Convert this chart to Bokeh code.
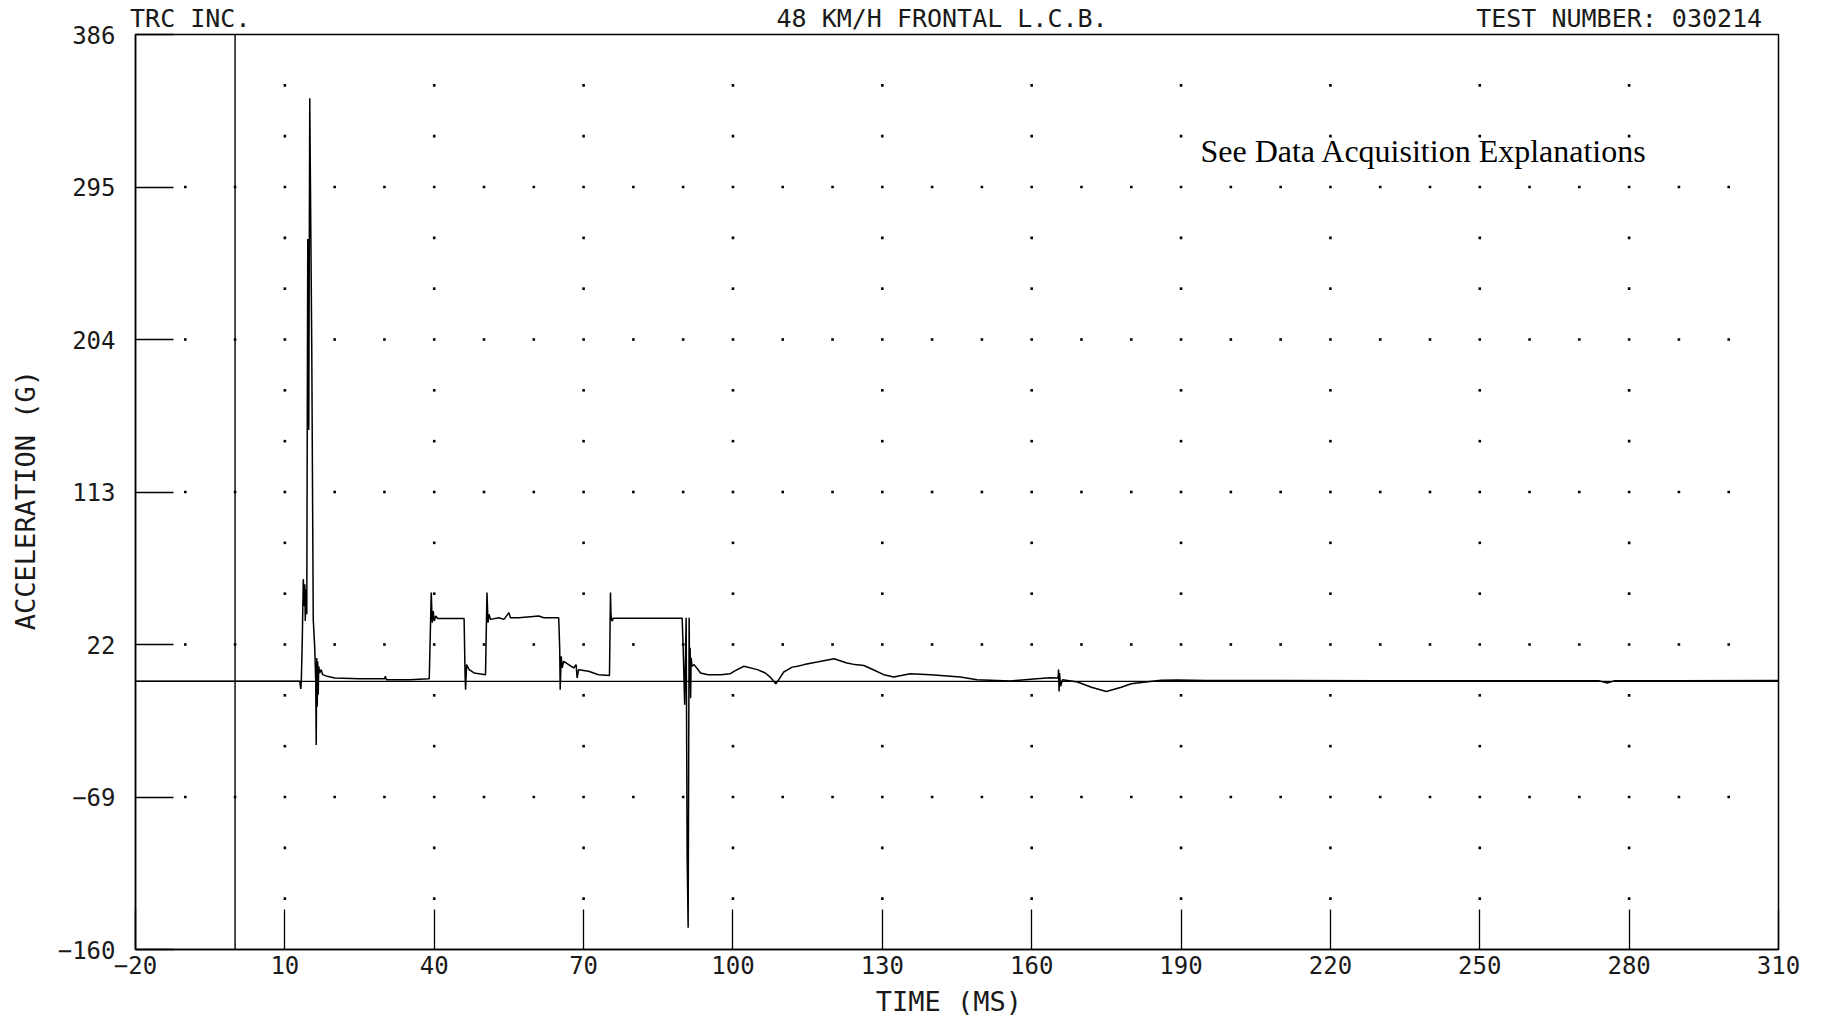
from bokeh.plotting import figure
from bokeh.models import Range1d, FixedTicker, Span, Label, LinearAxis
from bokeh.embed import file_html
from bokeh.resources import INLINE

# ---- data ----
time_ms = [-20, 13.0, 13.2, 13.3, 13.5, 13.7, 13.9, 14.0, 14.1, 14.2, 14.4, 14.6, 14.8, 15.0,
           15.4, 15.7, 16.0, 16.2, 16.3, 16.4, 16.5, 16.6, 16.7, 16.8, 17.0, 17.3, 17.6, 18.5,
           20, 25, 30, 30.2, 30.4, 35, 39.0, 39.3, 39.4, 39.6, 39.8, 40.0, 40.3, 40.7, 46.0,
           46.2, 46.3, 46.5, 47.0, 48, 50.3, 50.5, 50.6, 50.8, 51.0, 51.3, 53, 54, 55, 55.3,
           57, 61, 62, 65.0, 65.2, 65.3, 65.5, 65.7, 66, 67, 68, 68.5, 68.7, 69, 71, 73, 75.2,
           75.4, 75.5, 75.7, 76, 89.8, 90.0, 90.3, 90.6, 90.8, 91.0, 91.2, 91.3, 91.4, 91.5,
           91.6, 91.8, 92.2, 93.5, 95, 97.5, 99.5, 100.2, 102.2, 104.9, 106.5, 107.6, 108.6,
           109.2, 110.2, 111.9, 113, 114.3, 116.9, 118.5, 120.3, 122.9, 124.5, 126.3, 128.5,
           130.3, 132.3, 135.6, 139.7, 145.7, 149, 155.7, 160.4, 163.7, 165.3, 165.4, 165.5,
           165.6, 165.8, 166.2, 169.2, 172, 175, 178, 180, 182.5, 186, 189.2, 195, 210, 230,
           260, 274, 275.6, 277, 290, 310]
accel_g = [0, 0, -4.5, 0, 25, 61, 45, 58, 36, 55, 40, 264, 150, 348,
           200, 37, 20, 0, -38, 14, -15, 12, -8, 9, 5, 7, 4, 3,
           2, 1.5, 1.5, 3, 1, 1, 1.5, 40, 53, 35, 42, 36, 39, 37.5, 37.5,
           3, -5, 10, 7, 5, 4, 38, 53, 35, 40, 37, 38, 37, 41, 38,
           38, 39, 38, 38, 20, -5, 15, 8, 12, 10, 8, 10, 2, 7, 6, 4, 3.5,
           53, 40, 36, 37.6, 37.6, 20, -14, 38, -105, -147, 38, 0, 20, -10,
           14, 9, 10, 5, 4, 4, 4.6, 6, 9, 7, 5, 2.2, -1.4,
           1, 5.6, 8.5, 9, 10, 11.5, 12.5, 13.5, 11, 10, 9.5, 6.5,
           4, 2.6, 4.6, 4, 2.6, 1, 0.2, 1.4, 2.2, 2, 7, -6,
           5, -3, 1, -0.4, -3.5, -6, -3.5, -1.4, -0.5, 0.6, 0.8, 0.5, 0.5, 0.3,
           0.3, 0.3, -1, 0.3, 0.3, 0.5]

x_ticks = [-20, 10, 40, 70, 100, 130, 160, 190, 220, 250, 280, 310]
y_ticks = [-160, -69, 22, 113, 204, 295, 386]

header_pos = [-9, 142, 278]
header_texts = ["TRC INC.", "48 KM/H FRONTAL L.C.B.", "TEST NUMBER: 030214"]
note_text = "See Data Acquisition Explanations"
x_title = "TIME  (MS)"
y_title = "ACCELERATION  (G)"

MONO = "DejaVu Sans Mono"
INK = "#1a1a1a"

p = figure(frame_width=1643, frame_height=915, output_backend="svg", toolbar_location=None,
           x_range=Range1d(-20, 310), y_range=Range1d(-160, 386),
           min_border_left=135, min_border_right=30, min_border_top=32, min_border_bottom=66)
p.xgrid.visible = False
p.ygrid.visible = False
p.outline_line_color = "black"
p.outline_line_width = 1.5
p.background_fill_color = "white"
p.border_fill_color = "white"

for ax in (p.xaxis[0], p.yaxis[0]):
    ax.axis_line_color = "black"
    ax.axis_line_width = 1.5
    ax.major_tick_out = 0
    ax.minor_tick_in = 0
    ax.minor_tick_out = 0
    ax.major_tick_line_color = "black"
    ax.major_tick_line_width = 1.3
    ax.major_label_text_font = MONO
    ax.major_label_text_font_size = "24px"
    ax.major_label_text_color = INK
    ax.axis_label_text_font = MONO
    ax.axis_label_text_font_size = "27px"
    ax.axis_label_text_font_style = "normal"
    ax.axis_label_text_color = INK

p.xaxis.ticker = FixedTicker(ticks=x_ticks)
p.yaxis.ticker = FixedTicker(ticks=y_ticks)
p.xaxis.major_tick_in = 40
p.yaxis.major_tick_in = 38
p.xaxis.major_label_standoff = 6
p.yaxis.major_label_standoff = 20
p.xaxis.axis_label = x_title
p.yaxis.axis_label = y_title
p.xaxis.axis_label_standoff = 9
p.yaxis.axis_label_standoff = 14

# header line drawn as an unlabelled top axis carrying the three plot headers
top = LinearAxis(ticker=FixedTicker(ticks=header_pos),
                 major_label_overrides={k: v for k, v in zip(header_pos, header_texts)})
top.axis_line_color = None
top.major_tick_line_color = None
top.minor_tick_line_color = None
top.major_tick_in = 0
top.major_tick_out = 0
top.major_label_standoff = 2
top.major_label_text_font = MONO
top.major_label_text_font_size = "25px"
top.major_label_text_color = INK
p.add_layout(top, "above")

# dotted plotter grid: dense dots on labelled rows, sparse dots on intermediate rows
major_rows = y_ticks[1:-1]
dense_cols = list(range(-10, 310, 10))
step = (y_ticks[1] - y_ticks[0]) / 3.0
minor_rows = [y_ticks[0] + step * k for k in range(1, 18) if k % 3 != 0]
sparse_cols = x_ticks[1:-1]
dx, dy = [], []
for r in major_rows:
    for c in dense_cols:
        dx.append(c); dy.append(r)
for r in minor_rows:
    for c in sparse_cols:
        dx.append(c); dy.append(r)
p.scatter(dx, dy, size=2.6, marker="square", color="black", line_color=None)

# reference lines (time zero and acceleration zero)
p.add_layout(Span(location=0, dimension="height", line_color="black", line_width=1.4))
p.add_layout(Span(location=0, dimension="width", line_color="black", line_width=1.4))

# trace
p.line(time_ms, accel_g, line_color="black", line_width=1.5)

p.add_layout(Label(x=193.9, y=316.2, text=note_text, text_font="Liberation Serif",
                   text_font_size="32px", text_color="black", text_baseline="middle",
                   text_align="left"))

open("out.html", "w").write(file_html(p, INLINE))
